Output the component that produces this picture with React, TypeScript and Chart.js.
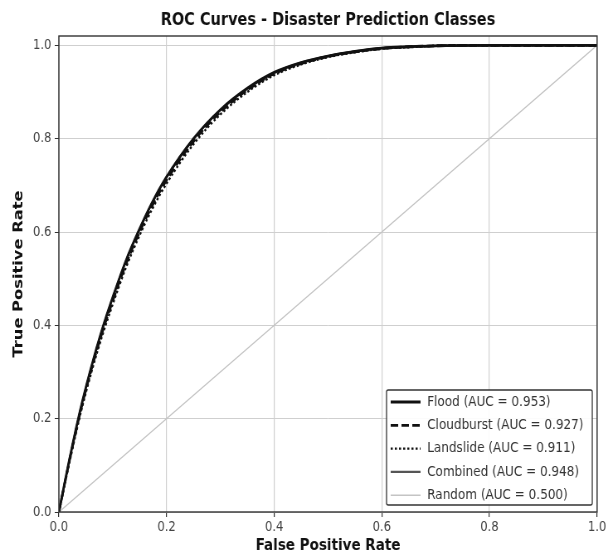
import React, { useEffect, useRef } from "react";
import { Chart, registerables } from "chart.js";

Chart.register(...registerables);

const fpr = [0, 0.02, 0.04, 0.06, 0.08, 0.1, 0.125, 0.15, 0.175, 0.2, 0.25, 0.3, 0.35, 0.4, 0.45, 0.5, 0.55, 0.6, 0.65, 0.7, 0.8, 0.9, 1.0];
const floodTpr = [0, 0.115, 0.22, 0.31, 0.39, 0.46, 0.54, 0.607, 0.667, 0.718, 0.8, 0.862, 0.908, 0.942, 0.963, 0.977, 0.987, 0.994, 0.997, 0.999, 1.0, 1.0, 1.0];
const cloudburstTpr = [0, 0.112, 0.215, 0.304, 0.383, 0.452, 0.532, 0.6, 0.66, 0.711, 0.794, 0.857, 0.904, 0.939, 0.961, 0.976, 0.986, 0.993, 0.997, 0.999, 1.0, 1.0, 1.0];
const landslideTpr = [0, 0.108, 0.21, 0.298, 0.376, 0.445, 0.525, 0.593, 0.653, 0.704, 0.788, 0.852, 0.9, 0.936, 0.959, 0.975, 0.985, 0.993, 0.996, 0.999, 1.0, 1.0, 1.0];
const combinedTpr = [0, 0.114, 0.219, 0.309, 0.389, 0.459, 0.539, 0.606, 0.666, 0.717, 0.799, 0.861, 0.907, 0.941, 0.963, 0.977, 0.987, 0.994, 0.997, 0.999, 1.0, 1.0, 1.0];
const randomFpr = [0, 1];
const randomTpr = [0, 1];

const seriesLabels = [
  "Flood (AUC = 0.953)",
  "Cloudburst (AUC = 0.927)",
  "Landslide (AUC = 0.911)",
  "Combined (AUC = 0.948)",
  "Random (AUC = 0.500)",
];
const tickValues = [0, 0.2, 0.4, 0.6, 0.8, 1.0];

const titleText = "ROC Curves - Disaster Prediction Classes";
const xTitle = "False Positive Rate";
const yTitle = "True Positive Rate";

const FONT = "'DejaVu Sans', sans-serif";

// the reference figure is squeezed horizontally; render wide and compress with CSS
const SCREEN_W = 608;
const H = 556;
const SQUEEZE = 0.83;
const W = Math.round(SCREEN_W / SQUEEZE);

const pts = (xs: number[], ys: number[]) => xs.map((x, i) => ({ x, y: ys[i] }));

const framePlugin = {
  id: "frameAndLegend",
  afterDraw(chart: any) {
    const { ctx, chartArea } = chart;
    const { left, top, right, bottom } = chartArea;
    ctx.save();
    // title
    ctx.fillStyle = "#111";
    ctx.font = `bold 17.5px ${FONT}`;
    ctx.textAlign = "center";
    ctx.textBaseline = "middle";
    ctx.fillText(titleText, (left + right) / 2, 20);
    // frame
    ctx.strokeStyle = "#333";
    ctx.lineWidth = 1.4;
    ctx.strokeRect(left, top, right - left, bottom - top);
    // legend
    const lx = 466, ly = 390, lw = 248, lh = 115;
    ctx.fillStyle = "rgba(255,255,255,0.9)";
    ctx.strokeStyle = "#333";
    ctx.lineWidth = 1.3;
    ctx.beginPath();
    if (ctx.roundRect) ctx.roundRect(lx, ly, lw, lh, 2);
    else ctx.rect(lx, ly, lw, lh);
    ctx.fill();
    ctx.stroke();
    ctx.font = `14.5px ${FONT}`;
    ctx.textAlign = "left";
    ctx.textBaseline = "middle";
    chart.data.datasets.forEach((ds: any, i: number) => {
      const yy = ly + 12 + i * 23.3;
      ctx.save();
      ctx.strokeStyle = ds.borderColor;
      ctx.lineWidth = ds.borderWidth;
      ctx.setLineDash(ds.borderDash || []);
      ctx.beginPath();
      ctx.moveTo(lx + 5, yy);
      ctx.lineTo(lx + 41, yy);
      ctx.stroke();
      ctx.restore();
      ctx.fillStyle = "#333";
      ctx.fillText(ds.label, lx + 49, yy);
    });
    ctx.restore();
  },
};

export default function App() {
  const ref = useRef<HTMLCanvasElement>(null);
  useEffect(() => {
    document.body.style.margin = "0";
    const chart = new Chart(ref.current as HTMLCanvasElement, {
      type: "line",
      data: {
        datasets: [
          { label: seriesLabels[0], data: pts(fpr, floodTpr), borderColor: "#111", borderWidth: 2.8, borderDash: [] },
          { label: seriesLabels[1], data: pts(fpr, cloudburstTpr), borderColor: "#111", borderWidth: 2.8, borderDash: [9, 4] },
          { label: seriesLabels[2], data: pts(fpr, landslideTpr), borderColor: "#111", borderWidth: 2.4, borderDash: [2.5, 2.5] },
          { label: seriesLabels[3], data: pts(fpr, combinedTpr), borderColor: "#555", borderWidth: 2.2, borderDash: [] },
          { label: seriesLabels[4], data: pts(randomFpr, randomTpr), borderColor: "#c4c4c4", borderWidth: 1.4, borderDash: [] },
        ] as any,
      },
      options: {
        animation: false,
        responsive: false,
        devicePixelRatio: 1,
        parsing: false as any,
        elements: { point: { radius: 0 }, line: { cubicInterpolationMode: "monotone", fill: false } },
        layout: { padding: { top: 36, right: 13, left: 0, bottom: 0 } },
        plugins: { legend: { display: false }, tooltip: { enabled: false }, title: { display: false } },
        scales: {
          x: {
            type: "linear",
            min: 0,
            max: 1,
            afterBuildTicks: (axis: any) => { axis.ticks = tickValues.map((v) => ({ value: v })); },
            afterFit: (scale: any) => { scale.height = 44; },
            border: { display: false },
            grid: { color: "#cfcfcf", lineWidth: 1.2, borderDash: [2, 2], tickColor: "#333", tickLength: 5, tickBorderDash: [] } as any,
            ticks: { color: "#444", font: { family: FONT, size: 14 }, padding: 2, maxRotation: 0, callback: (v: any) => Number(v).toFixed(1) },
            title: { display: true, text: xTitle, color: "#111", font: { family: FONT, size: 16.3, weight: "bold" }, padding: { top: 0, bottom: 0 } },
          },
          y: {
            type: "linear",
            min: 0,
            max: 1.02,
            afterBuildTicks: (axis: any) => { axis.ticks = tickValues.map((v) => ({ value: v })); },
            afterFit: (scale: any) => { scale.width = 71; },
            border: { display: false },
            grid: { color: "#cfcfcf", lineWidth: 1, tickColor: "#333", tickLength: 5 },
            ticks: { color: "#444", font: { family: FONT, size: 14 }, padding: 4, callback: (v: any) => Number(v).toFixed(1) },
            title: { display: true, text: yTitle, color: "#111", font: { family: FONT, size: 16.3, weight: "bold" }, padding: { top: 13, bottom: 0 } },
          },
        },
      },
      plugins: [framePlugin],
    });
    return () => chart.destroy();
  }, []);
  return (
    <canvas
      ref={ref}
      width={W}
      height={H}
      style={{ display: "block", width: SCREEN_W + "px", height: H + "px" }}
    />
  );
}
